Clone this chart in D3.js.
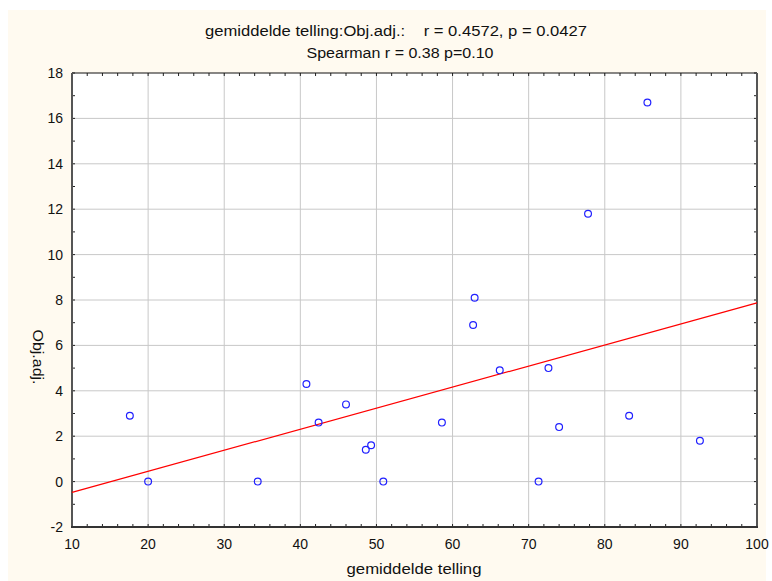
<!DOCTYPE html>
<html><head><meta charset="utf-8">
<script src="https://cdn.jsdelivr.net/npm/d3@7"></script>
<style>body{margin:0;background:#fff}text{font-family:"Liberation Sans",Arial,sans-serif;fill:#111}</style>
</head><body><svg id="c" width="772" height="581"></svg>
<script>
const xValues = [17.6, 20.0, 34.4, 40.8, 42.4, 46.0, 48.6, 49.3, 50.9, 58.6, 62.7, 62.9, 66.2, 71.3, 72.6, 74.0, 77.8, 83.2, 85.6, 92.5];
const yValues = [2.9, 0.0, 0.0, 4.3, 2.6, 3.4, 1.4, 1.6, 0.0, 2.6, 6.9, 8.1, 4.9, 0.0, 5.0, 2.4, 11.8, 2.9, 16.7, 1.8];
const fitLine = {intercept: -1.40, slope: 0.0927};
const xTicks = [10, 20, 30, 40, 50, 60, 70, 80, 90, 100];
const yTicks = [-2, 0, 2, 4, 6, 8, 10, 12, 14, 16, 18];
const titleLines = ["gemiddelde telling:Obj.adj.:    r = 0.4572, p = 0.0427", "Spearman r = 0.38 p=0.10"];
const xLabel = "gemiddelde telling";
const yLabel = "Obj.adj.";

const svg = d3.select("#c");
svg.append("rect").attr("x",8).attr("y",10).attr("width",758).attr("height",571).attr("fill","#fffaf0");
const L=72, R=757, T=73, B=527;
const x = d3.scaleLinear().domain([10,100]).range([L,R]);
const y = d3.scaleLinear().domain([-2,18]).range([B,T]);
svg.append("rect").attr("x",L).attr("y",T).attr("width",R-L).attr("height",B-T).attr("fill","#fff");
const g = svg.append("g");
// grid
g.selectAll(".gx").data(xTicks.slice(1,-1)).join("line").attr("x1",d=>x(d)).attr("x2",d=>x(d)).attr("y1",T).attr("y2",B).attr("stroke","#c8c8c8").attr("stroke-width",1);
g.selectAll(".gy").data(yTicks.slice(1,-1)).join("line").attr("y1",d=>y(d)).attr("y2",d=>y(d)).attr("x1",L).attr("x2",R).attr("stroke","#c8c8c8").attr("stroke-width",1);
// minor ticks
const xMinor = d3.range(10,100.01,2);
const yMinor = d3.range(-2,18.01,1);
function ticks(data, f){ g.selectAll(null).data(data).join("line").each(f).attr("stroke","#222").attr("stroke-width",1); }
ticks(xMinor,function(d){d3.select(this).attr("x1",x(d)).attr("x2",x(d)).attr("y1",B).attr("y2",B-3);});
ticks(xMinor,function(d){d3.select(this).attr("x1",x(d)).attr("x2",x(d)).attr("y1",T).attr("y2",T+3);});
ticks(yMinor,function(d){d3.select(this).attr("y1",y(d)).attr("y2",y(d)).attr("x1",L).attr("x2",L+3);});
ticks(yMinor,function(d){d3.select(this).attr("y1",y(d)).attr("y2",y(d)).attr("x1",R).attr("x2",R-3);});
// frame
svg.append("line").attr("x1",L).attr("x2",R).attr("y1",T).attr("y2",T).attr("stroke","#111").attr("stroke-width",1);
svg.append("line").attr("x1",R).attr("x2",R).attr("y1",T).attr("y2",B).attr("stroke","#555").attr("stroke-width",2);
svg.append("line").attr("x1",L).attr("x2",L).attr("y1",T).attr("y2",B+1).attr("stroke","#555").attr("stroke-width",2);
svg.append("line").attr("x1",L-1).attr("x2",R+1).attr("y1",B).attr("y2",B).attr("stroke","#333").attr("stroke-width",2);
// fit line
svg.append("line").attr("x1",x(10)).attr("x2",x(100))
  .attr("y1",y(fitLine.intercept+fitLine.slope*10)).attr("y2",y(fitLine.intercept+fitLine.slope*100))
  .attr("stroke","#ff0000").attr("stroke-width",1.2);
// points
svg.selectAll(".pt").data(xValues.map((v,i)=>[v,yValues[i]])).join("circle")
  .attr("cx",d=>x(d[0])).attr("cy",d=>y(d[1])).attr("r",3.4)
  .attr("fill","none").attr("stroke","#2020ff").attr("stroke-width",1.2);
// tick labels
svg.selectAll(".xl").data(xTicks).join("text").attr("x",d=>x(d)).attr("y",549).attr("text-anchor","middle").attr("font-size",14).text(d=>d);
svg.selectAll(".yl").data(yTicks).join("text").attr("x",63).attr("y",d=>y(d)+5).attr("text-anchor","end").attr("font-size",14).text(d=>d);
// titles
const titleW = [382, 187];
const titleCx = [396, 400];
svg.selectAll(".tt").data(titleLines).join("text").attr("x",(d,i)=>titleCx[i]).attr("y",(d,i)=>36+i*22)
  .attr("text-anchor","middle").attr("font-size",14).style("white-space","pre")
  .attr("textLength",(d,i)=>titleW[i]).attr("lengthAdjust","spacingAndGlyphs").text(d=>d);
svg.append("text").attr("x",414).attr("y",574).attr("text-anchor","middle").attr("font-size",14)
  .attr("textLength",135).attr("lengthAdjust","spacingAndGlyphs").text(xLabel);
svg.append("text").attr("transform","translate(33,357) rotate(90)").attr("text-anchor","middle").attr("font-size",14)
  .attr("textLength",55).attr("lengthAdjust","spacingAndGlyphs").text(yLabel);
</script></body></html>
